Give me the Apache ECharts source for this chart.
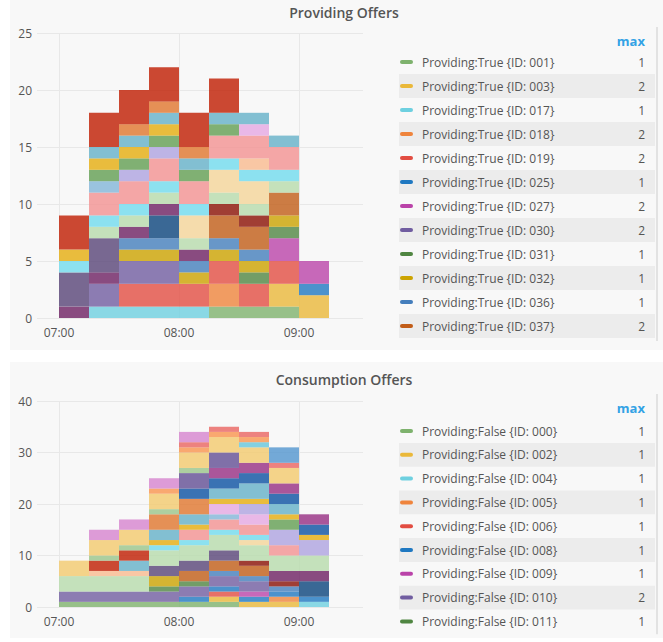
<!DOCTYPE html>
<html><head><meta charset="utf-8">
<script src="https://cdn.jsdelivr.net/npm/echarts@6/dist/echarts.min.js"></script>
<style>html,body{margin:0;padding:0;background:#fff}#c{width:663px;height:642px}</style>
</head><body><div id="c"></div>
<script>
// ---- data ----
const barTimes = ['07:00','07:15','07:30','07:45','08:00','08:15','08:30','08:45','09:00'];
const xTickLabels = ['07:00','08:00','09:00'];
const topTitle = 'Providing Offers';
const bottomTitle = 'Consumption Offers';
const topPrefix = 'Providing:True';
const bottomPrefix = 'Providing:False';
const topYTicks = [0, 5, 10, 15, 20, 25];
const bottomYTicks = [0, 10, 20, 30, 40];

// Providing:True series (stack order, bottom first)
const T001=[0,0,0,0,0,1,1,1,0];
const T003=[0,0,0,0,0,0,0,2,2];
const T017=[0,1,1,1,1,0,0,0,0];
const T018=[0,0,0,0,0,2,0,0,0];
const T019=[0,0,2,2,2,2,2,2,0];
const T025=[0,0,0,0,0,0,0,0,1];
const T027=[0,0,0,0,0,0,0,2,2];
const T030=[0,2,2,2,0,0,0,0,0];
const T031=[0,0,0,0,0,0,1,1,0];
const T032=[0,0,1,1,1,1,1,1,0];
const T036=[0,0,1,1,1,1,1,0,0];
const T037=[0,0,0,0,0,2,2,2,0];
const T038=[0,0,0,0,0,1,1,0,0];
const T039=[0,0,0,2,0,0,0,0,0];
const T040=[1,1,1,1,1,0,0,0,0];
const T041=[3,3,0,0,0,0,0,0,0];
const T042=[0,1,1,1,1,1,1,1,0];
const T043=[0,0,0,0,2,2,2,0,0];
const T044=[1,1,1,1,1,1,1,1,0];
const T045=[0,0,0,0,0,0,1,0,0];
const T046=[0,2,2,2,2,2,2,2,0];
const T047=[0,1,0,0,0,0,0,0,0];
const T048=[0,0,0,0,0,0,1,0,0];
const T049=[0,0,1,1,0,0,0,0,0];
const T050=[0,1,1,1,1,1,0,0,0];
const T051=[1,1,1,1,0,0,0,0,0];
const T052=[0,1,1,1,1,1,1,1,0];
const T053=[0,0,1,1,1,0,0,0,0];
const T054=[3,3,3,3,3,3,0,0,0];
const topSeriesList = [
  ['001',T001],['003',T003],['017',T017],['018',T018],['019',T019],['025',T025],
  ['027',T027],['030',T030],['031',T031],['032',T032],['036',T036],['037',T037],
  ['038',T038],['039',T039],['040',T040],['041',T041],['042',T042],['043',T043],
  ['044',T044],['045',T045],['046',T046],['047',T047],['048',T048],['049',T049],
  ['050',T050],['051',T051],['052',T052],['053',T053],['054',T054]
];

// Providing:False series
const F000=[1,1,1,1,1,1,0,0,0];
const F002=[0,0,0,0,0,1,1,1,0];
const F004=[0,0,0,0,0,0,0,0,1];
const F005=[0,0,0,0,0,0,0,1,0];
const F006=[0,0,0,0,0,1,0,0,0];
const F008=[0,0,0,0,1,1,1,1,1];
const F009=[0,0,0,0,0,0,1,0,0];
const F010=[2,2,2,2,2,2,2,0,0];
const F011=[0,0,0,1,1,0,0,0,0];
const F012=[0,0,0,2,0,0,0,0,0];
const F013=[0,0,0,0,0,1,1,1,0];
const F014=[0,0,0,0,2,2,2,0,0];
const F015=[0,0,0,0,0,0,1,1,0];
const F016=[0,0,0,0,0,0,0,0,3];
const F017=[0,0,0,0,0,0,0,2,2];
const F018=[0,0,0,2,2,2,0,0,0];
const F019=[3,3,3,3,3,3,3,3,3];
const F020=[0,0,0,0,0,0,1,0,0];
const F021=[0,0,0,1,1,1,1,0,0];
const F022=[0,1,1,0,0,0,0,0,0];
const F023=[0,0,0,0,2,2,2,2,0];
const F024=[0,0,0,0,0,1,0,0,0];
const F025=[0,0,0,0,0,2,2,0,0];
const F026=[0,0,0,0,0,0,2,3,3];
const F027=[0,0,0,0,0,0,0,2,0];
const F028=[0,0,0,1,1,1,1,1,1];
const F029=[0,0,2,2,2,2,3,2,0];
const F030=[0,0,0,3,3,0,0,0,0];
const F031=[0,2,2,0,0,0,0,0,0];
const F032=[0,0,0,0,2,2,2,2,2];
const F033=[0,0,0,0,0,2,2,2,2];
const F034=[0,0,0,0,3,3,0,0,0];
const F035=[0,1,1,1,1,0,0,0,0];
const F036=[3,3,3,3,3,3,3,3,0];
const F037=[0,0,0,0,0,0,1,0,0];
const F038=[0,0,0,1,1,1,1,0,0];
const F039=[0,0,0,0,1,1,1,1,0];
const F040=[0,0,0,0,0,0,0,3,0];
const F041=[0,2,2,2,2,0,0,0,0];
const bottomSeriesList = [
  ['000',F000],['002',F002],['004',F004],['005',F005],['006',F006],['008',F008],
  ['009',F009],['010',F010],['011',F011],['012',F012],['013',F013],['014',F014],
  ['015',F015],['016',F016],['017',F017],['018',F018],['019',F019],['020',F020],
  ['021',F021],['022',F022],['023',F023],['024',F024],['025',F025],['026',F026],
  ['027',F027],['028',F028],['029',F029],['030',F030],['031',F031],['032',F032],
  ['033',F033],['034',F034],['035',F035],['036',F036],['037',F037],['038',F038],
  ['039',F039],['040',F040],['041',F041]
];

// ---- style ----
const PALETTE = ['#7EB26D','#EAB839','#6ED0E0','#EF843C','#E24D42','#1F78C1','#BA43A9','#705DA0',
  '#508642','#CCA300','#447EBC','#C15C17','#890F02','#0A437C','#6D1F62','#584477','#B7DBAB',
  '#F4D598','#70DBED','#F9BA8F','#F29191','#82B5D8','#E5A8E2','#AEA2E0','#629E51','#E5AC0E',
  '#64B0C8','#E0752D','#BF1B00','#0A50A1','#962D82','#614D93','#9AC48A','#F2C96D','#65C5DB',
  '#F9934E','#EA6460','#5195CE','#D683CE','#806EB7','#3F6833'];
const FONT = '"Open Sans", "Noto Sans", sans-serif';
const TEXT = '#555';
const GRIDC = '#e8e8e8';

const toMin = s => { const p = s.split(':').map(Number); return p[0]*60 + p[1]; };
const fmt = v => { const h = Math.floor(v/60), m = Math.round(v - h*60); return String(h).padStart(2,'0') + ':' + String(m).padStart(2,'0'); };
const BAR_MIN = toMin(barTimes[1]) - toMin(barTimes[0]);
const xMin = toMin('06:49'), xMax = toMin('09:32');
const xTicks = xTickLabels.map(toMin);

const panels = [
  {list: topSeriesList, prefix: topPrefix, title: topTitle, yTicks: topYTicks,
   grid: {left: 37, top: 33, width: 326, height: 285}, panel: [10, 0, 653, 350],
   titleY: 12, headerY: 41, rowY0: 62, rowH: 24, rows: 12},
  {list: bottomSeriesList, prefix: bottomPrefix, title: bottomTitle, yTicks: bottomYTicks,
   grid: {left: 37, top: 401, width: 326, height: 206}, panel: [10, 362, 653, 276],
   titleY: 379, headerY: 408, rowY0: 431, rowH: 23.8, rows: 9}
];

const grids = [], xAxes = [], yAxes = [], series = [], graphics = [];
panels.forEach((p, g) => {
  const bg = 2*g, bi = 2*g + 1;
  const yMin = p.yTicks[0], yMax = p.yTicks[p.yTicks.length-1];
  // background grid: time scale for gridlines & labels
  grids.push(Object.assign({}, p.grid));
  xAxes.push({
    type: 'value', gridIndex: bg, min: xMin, max: xMax,
    axisLine: {show: false},
    axisTick: {show: false, customValues: xTicks},
    axisLabel: {customValues: xTicks, formatter: fmt, color: TEXT, fontSize: 12, fontFamily: FONT, margin: 8},
    splitLine: {show: true, lineStyle: {color: GRIDC, width: 1}}
  });
  yAxes.push({
    type: 'value', gridIndex: bg, min: yMin, max: yMax, interval: p.yTicks[1]-p.yTicks[0],
    axisLine: {show: false}, axisTick: {show: false},
    axisLabel: {color: TEXT, fontSize: 12, fontFamily: FONT, margin: 5},
    splitLine: {show: true, lineStyle: {color: GRIDC, width: 1}}
  });
  // bar grid: spans exactly the bar intervals on the same time scale
  const pxPerMin = p.grid.width / (xMax - xMin);
  const t0 = toMin(barTimes[0]);
  grids.push({left: p.grid.left + (t0 - xMin) * pxPerMin, top: p.grid.top,
    width: barTimes.length * BAR_MIN * pxPerMin, height: p.grid.height});
  xAxes.push({type: 'category', gridIndex: bi, data: barTimes, boundaryGap: true, show: false});
  yAxes.push({type: 'value', gridIndex: bi, min: yMin, max: yMax, show: false, splitLine: {show: false}});
  p.list.forEach(([id, vals], i) => {
    series.push({
      type: 'bar', name: p.prefix + ' {ID: ' + id + '}', xAxisIndex: bi, yAxisIndex: bi,
      stack: 'stack' + g, barWidth: '100%', silent: true, animation: false,
      itemStyle: {color: PALETTE[i], opacity: 0.8},
      data: vals
    });
  });
  graphics.push({type: 'rect', z: -100, shape: {x: p.panel[0], y: p.panel[1], width: p.panel[2], height: p.panel[3]},
    style: {fill: '#f8f8f8'}});
  graphics.push({type: 'text', z: 10, x: 344, y: p.titleY,
    style: {text: p.title, fill: '#555555', font: '600 14px ' + FONT, align: 'center', verticalAlign: 'middle'}});
  graphics.push({type: 'text', z: 10, x: 645, y: p.headerY,
    style: {text: 'max', fill: '#33a2e5', font: 'bold 13px ' + FONT, align: 'right', verticalAlign: 'middle'}});
  for (let i = 0; i < p.rows && i < p.list.length; i++) {
    const y = p.rowY0 + i * p.rowH;
    const [id, vals] = p.list[i];
    if (i % 2 === 1) {
      graphics.push({type: 'rect', z: 5, shape: {x: 399, y: y - p.rowH/2, width: 256, height: p.rowH},
        style: {fill: '#ececec'}});
    }
    graphics.push({type: 'rect', z: 10, shape: {x: 400, y: y - 2, width: 13, height: 4, r: 2},
      style: {fill: PALETTE[i]}});
    graphics.push({type: 'text', z: 10, x: 422, y: y,
      style: {text: p.prefix + ' {ID: ' + id + '}', fill: TEXT, font: '12px ' + FONT, align: 'left', verticalAlign: 'middle'}});
    graphics.push({type: 'text', z: 10, x: 645, y: y,
      style: {text: String(Math.max.apply(null, vals)), fill: TEXT, font: '12px ' + FONT, align: 'right', verticalAlign: 'middle'}});
  }
  graphics.push({type: 'rect', z: 6, shape: {x: 656, y: p.headerY - 14, width: 2, height: p.rows * p.rowH + 26},
    style: {fill: '#e2e2e2'}});
});

const chart = echarts.init(document.getElementById('c'), null, {renderer: 'svg'});
chart.setOption({
  backgroundColor: '#ffffff',
  animation: false,
  textStyle: {fontFamily: FONT},
  grid: grids, xAxis: xAxes, yAxis: yAxes, series: series,
  graphic: {elements: graphics}
});
</script></body></html>
